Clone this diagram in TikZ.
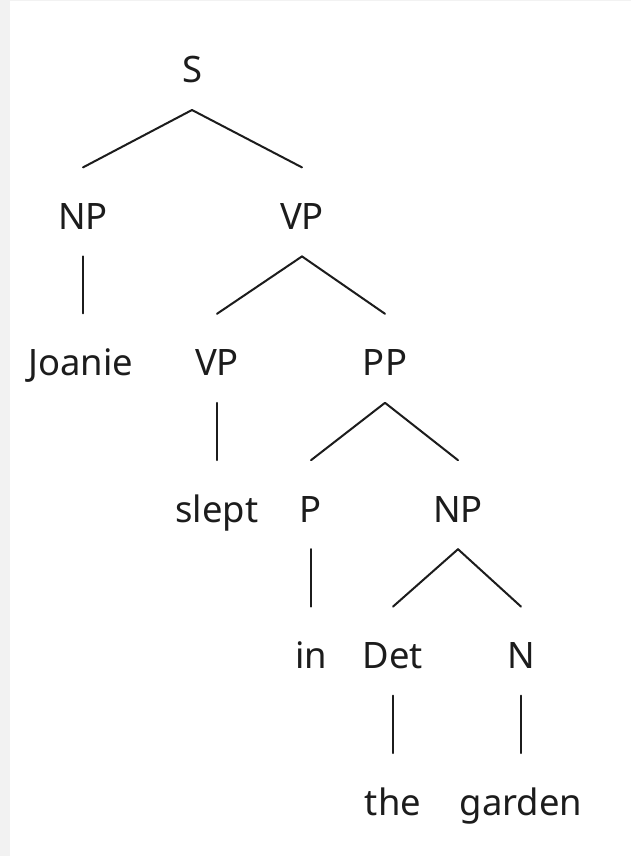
\documentclass[tikz,border=0pt]{standalone}
\usepackage{fontspec}
\setmainfont{Noto Sans}
\usetikzlibrary{calc}
\definecolor{ink}{HTML}{1C1C1C}
\definecolor{strip}{HTML}{F2F2F2}
\tikzset{
  cat/.style={anchor=base, inner sep=0pt, text=ink,
    font=\fontsize{36.4}{40}\selectfont},
  branch/.style={draw=ink, line width=2pt, line cap=round}
}
% draw an edge from a parent node down to a child node
\newcommand{\treeedge}[2]{\draw[branch] ($(#1.base)+(0,27)$) -- ($(#2.base)+(0,-62)$);}
\begin{document}
\begin{tikzpicture}[x=1pt, y=-1pt]
  \useasboundingbox (0,0) rectangle (631,856);
  \fill[white] (0,0) rectangle (631,856);
  \fill[strip] (0,0) rectangle (10,856);
  \fill[strip] (0,0) rectangle (631,1.5);

  % row 1
  \node[cat] (s)      at (192,83)    {S};
  % row 2
  \node[cat] (np1)    at (83,229.4)  {NP};
  \node[cat] (vp1)    at (302,229.4) {VP};
  % row 3
  \node[cat] (joanie) at (81,375.8)  {Joanie};
  \node[cat] (vp2)    at (217,375.8) {VP};
  \node[cat] (pp)     at (385,375.8) {PP};
  % row 4
  \node[cat] (slept)  at (217,522.2) {slept};
  \node[cat] (p)      at (311,522.2) {P};
  \node[cat] (np2)    at (458,522.2) {NP};
  % row 5
  \node[cat] (in)     at (311,668.6) {in};
  \node[cat] (det)    at (393,668.6) {Det};
  \node[cat] (n)      at (521,668.6) {N};
  % row 6
  \node[cat] (the)    at (393,815)   {the};
  \node[cat] (garden) at (521,815)   {garden};

  \treeedge{s}{np1}
  \treeedge{s}{vp1}
  \draw[branch] ($(np1.base)+(0,27)$) -- ($(np1.base)+(0,84)$);
  \treeedge{vp1}{vp2}
  \treeedge{vp1}{pp}
  \treeedge{vp2}{slept}
  \treeedge{pp}{p}
  \treeedge{pp}{np2}
  \treeedge{p}{in}
  \treeedge{np2}{det}
  \treeedge{np2}{n}
  \treeedge{det}{the}
  \treeedge{n}{garden}
\end{tikzpicture}
\end{document}
